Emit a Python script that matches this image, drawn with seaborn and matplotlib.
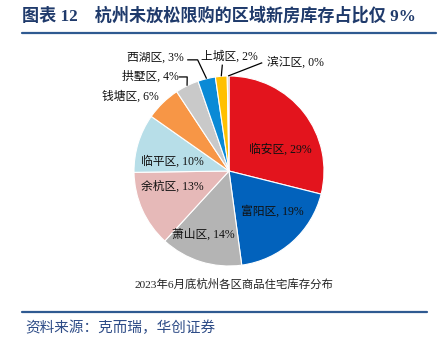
import numpy as np
import matplotlib
matplotlib.use("Agg")
import matplotlib.pyplot as plt
import seaborn as sns

# ---- data ----
districts = ["临安区", "富阳区", "萧山区", "余杭区", "临平区",
             "钱塘区", "拱墅区", "西湖区", "上城区", "滨江区"]
shares = [29, 19, 14, 13, 10, 6, 4, 3, 2, 0.3]
title_text = "图表 12    杭州未放松限购的区域新房库存占比仅 9%"
subtitle_text = "2023年6月底杭州各区商品住宅库存分布"
source_text = "资料来源：克而瑞，华创证券"

# ---- style ----
colors = ["#E3141D", "#0262BC", "#B4B4B4", "#E6B9B8", "#B7DEE8",
          "#F79646", "#C9C9C9", "#0A8AD6", "#FFC000", "#BFBFBF"]
sns.set_theme(style="white")
FONTS = ["Liberation Serif", "Noto Sans CJK SC", "DejaVu Sans"]
plt.rcParams["font.family"] = FONTS

W, H = 446, 339
fig = plt.figure(figsize=(W / 100, H / 100), dpi=100)
fig.patch.set_facecolor("white")

# title + rule
fig.text(22 / W, 1 - 16 / H, title_text, color="#1F3A6B", fontsize=12.3,
         fontweight="bold", ha="left", va="center", family=FONTS)
fig.add_artist(plt.Line2D([22 / W, 436 / W], [1 - 33 / H, 1 - 33 / H],
                          color="#2F5A91", lw=1.6, transform=fig.transFigure))
# bottom rule + source
fig.add_artist(plt.Line2D([22 / W, 427 / W], [1 - 312 / H, 1 - 312 / H],
                          color="#2F5A91", lw=1.6, transform=fig.transFigure))
fig.text(25 / W, 1 - 328 / H, source_text, color="#2E4C87", fontsize=10.5,
         ha="left", va="center", style="italic", family=FONTS)
fig.text(234 / W, 1 - 284 / H, subtitle_text, color="#222222", fontsize=8.2,
         ha="center", va="center", family=FONTS)

# pie axes: centre (229,171), radius 95 px
cx, cy, R = 229, 171, 95
ax = fig.add_axes([(cx - R) / W, 1 - (cy + R) / H, 2 * R / W, 2 * R / H])

wedges, _ = ax.pie(shares, colors=colors, startangle=90, counterclock=False,
                   radius=1, wedgeprops=dict(edgecolor="white", linewidth=0.8))
ax.set_xlim(-1, 1)
ax.set_ylim(-1, 1)
ax.set_aspect("equal")
ax.axis("off")

labels = [f"{d}, {round(v)}%" for d, v in zip(districts, shares)]

# inside labels (pie units)
inside_pos = {0: (0.54, 0.23), 1: (0.46, -0.43), 2: (-0.27, -0.67),
              3: (-0.60, -0.16), 4: (-0.60, 0.105)}
for i, (x, y) in inside_pos.items():
    ax.text(x, y, labels[i], ha="center", va="center", fontsize=8.5,
            color="#111111", family=FONTS)

# outside labels: text centre and leader-line points
outside = {
    5: dict(text=(-1.04, 0.78), path=None),
    6: dict(text=(-0.83, 0.99), path=[(-0.53, 0.99), (-0.44, 0.99)]),
    7: dict(text=(-0.77, 1.19), path=[(-0.44, 1.17), (-0.33, 1.17)]),
    8: dict(text=(0.0, 1.20), path=[(-0.07, 1.12)]),
    9: dict(text=(0.70, 1.14), path=[(0.35, 1.14)]),
}
for i, cfg in outside.items():
    tx, ty = cfg["text"]
    ax.text(tx, ty, labels[i], ha="center", va="center", fontsize=8.5,
            color="#111111", family=FONTS, clip_on=False)
    if cfg["path"] is not None:
        w = wedges[i]
        mid = np.deg2rad((w.theta1 + w.theta2) / 2)
        pts = cfg["path"] + [(np.cos(mid), np.sin(mid))]
        ax.plot([p[0] for p in pts], [p[1] for p in pts], color="black",
                lw=0.9, clip_on=False, solid_capstyle="butt")

fig.savefig("out.png", dpi=100, facecolor="white")
